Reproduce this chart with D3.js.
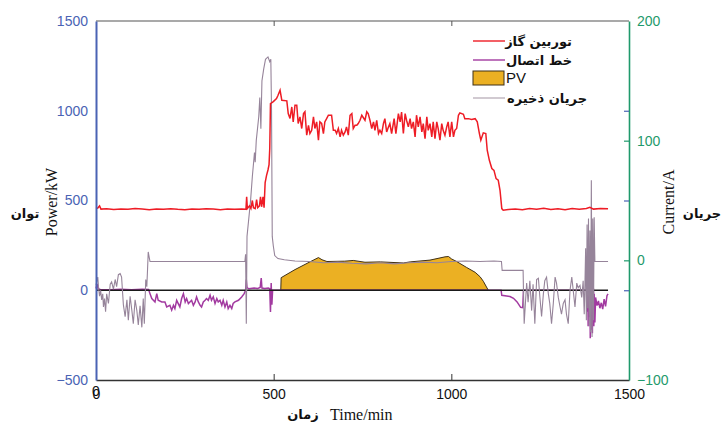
<!DOCTYPE html>
<html><head><meta charset="utf-8">
<script src="https://cdn.jsdelivr.net/npm/d3@7"></script>
<style>
html,body{margin:0;padding:0;background:#fff;}
svg{display:block;}
</style></head>
<body>
<svg id="chart" width="725" height="423"></svg>
<script>
// ---------- DATA ----------
const xTicks = [0, 500, 1000, 1500];
const powerTicks = [-500, 0, 500, 1000, 1500];
const currentTicks = [-100, 0, 100, 200];

const legendLabels = ["توربین گاز", "خط اتصال", "PV", "جریان ذخیره"];

// Gas turbine power [time(min), kW]
const gasTurbine = [
[0,455],[5,458],[10,470],[14,452],[30,454],[50,450],[70,453],[90,451],[110,455],[130,452],[150,449],[170,453],[190,451],[210,454],[230,451],[250,449],[270,453],[290,451],[310,454],[330,452],[350,449],[370,453],[390,451],[410,452],[422,451],
[424,520],[426,455],[432,470],[436,455],[440,500],[443,460],[448,455],[452,505],[455,460],[460,470],[463,520],[466,465],[470,520],[473,460],[476,600],[480,640],[484,670],[487,700],[489,790],[491,1040],[499,1051],[508,1068],[512,1085],[518,1114],[523,1058],[537,1055],[541,984],[546,957],[551,1021],[555,938],[560,1031],[565,1031],[569,929],[574,966],[579,901],[584,984],[588,994],[593,864],[598,919],[602,873],[607,891],[612,966],[616,901],[621,938],[626,836],[630,938],[635,929],[640,873],[644,938],[649,956],[654,975],[663,975],[668,891],[673,891],[677,873],[682,901],[687,854],[691,891],[696,864],[701,882],[705,910],[710,864],[715,975],[720,984],[724,901],[729,919],[734,919],[738,929],[743,947],[748,975],[757,947],[762,994],[766,984],[771,947],[776,901],[781,938],[785,891],[790,947],[795,873],[799,891],[804,873],[809,929],[813,956],[818,882],[823,910],[827,928],[832,873],[839,956],[844,873],[851,984],[856,938],[860,993],[865,873],[870,984],[874,947],[879,910],[884,956],[888,901],[893,938],[898,854],[902,975],[907,910],[912,966],[917,882],[921,928],[926,845],[931,966],[935,891],[940,928],[945,854],[949,938],[954,845],[959,938],[963,901],[968,836],[973,928],[977,891],[982,863],[987,910],[991,938],[996,854],[1001,938],[1006,854],[1010,891],[1015,901],[1020,975],[1024,988],[1034,980],[1038,956],[1048,956],[1057,951],[1067,956],[1073,938],[1079,873],[1083,836],[1090,877],[1097,873],[1101,780],[1107,724],[1114,678],[1120,668],[1126,622],[1132,613],[1137,557],[1142,455],[1146,446],[1160,450],[1180,452],[1200,449],[1220,455],[1240,451],[1260,457],[1280,450],[1300,454],[1320,449],[1340,456],[1360,451],[1380,455],[1390,462],[1400,452],[1420,456],[1441,454]
];

// Tie line power [time(min), kW]
const tieLine = [
[0,10],[3,35],[6,8],[12,4],[40,3],[70,5],[100,3],[130,5],[148,4],[152,-19],[157,-46],[166,-65],[171,-19],[175,-56],[185,-65],[194,-65],[199,-93],[208,-84],[213,-111],[218,-84],[222,-102],[227,-56],[236,-93],[241,-46],[246,-19],[251,-65],[255,-46],[260,-74],[269,-56],[274,-84],[279,-65],[283,-37],[288,-65],[293,-84],[297,-93],[302,-65],[307,-56],[311,-46],[316,-56],[321,-28],[325,-56],[330,-37],[335,-74],[340,-46],[344,-65],[349,-56],[354,-84],[358,-56],[363,-93],[368,-65],[372,-102],[377,-84],[382,-102],[386,-74],[391,-65],[401,-56],[410,-37],[417,-19],[421,0],[423,60],[425,15],[430,8],[445,12],[455,10],[462,15],[465,68],[467,12],[475,10],[485,12],[489,8],[491,-121],[493,40],[495,-80],[497,0],[1140,0],[1142,-28],[1165,-35],[1175,-45],[1185,-65],[1195,-95],[1201,-97],[1203,0],[1380,0],[1382,30],[1383,-120],[1384,20],[1385,-200],[1386,35],[1387,-150],[1388,40],[1389,-90],[1390,30],[1391,-268],[1392,25],[1393,-220],[1394,37],[1395,-160],[1396,20],[1397,-240],[1398,30],[1399,-120],[1400,10],[1401,-200],[1402,-20],[1404,-180],[1406,-40],[1410,-85],[1414,-60],[1418,-100],[1422,-70],[1426,-105],[1430,-50],[1434,-90],[1438,-30],[1441,-20]
];

// PV power [time(min), kW]
const pv = [
[520,0],[521,70],[560,115],[602,158],[626,182],[636,170],[650,160],[700,162],[724,166],[757,156],[800,158],[865,152],[884,158],[940,168],[982,186],[992,188],[1001,174],[1015,160],[1043,127],[1067,100],[1081,75],[1090,50],[1104,0]
];

// Storage current [time(min), A]
const storage = [
[0,-21],[2,-18],[5,-14],[7,-22],[10,-30],[13,-25],[16,-33],[19,-28],[21,-39],[24,-32],[27,-43],[30,-28],[35,-36],[40,-20],[44,-18],[49,-24],[54,-16],[58,-22],[63,-12],[68,-11],[72,-14],[77,-37],[82,-47],[87,-33],[91,-50],[96,-30],[101,-42],[105,-53],[110,-33],[115,-42],[119,-54],[124,-38],[129,-56],[133,-32],[136,-53],[140,-16],[143,-22],[145,-8],[147,7],[150,2],[152,-1],[419,-1],[421,5],[423,-53],[425,20],[430,35],[435,50],[440,70],[446,90],[448,82],[451,100],[458,120],[461,136],[464,110],[467,150],[472,160],[477,168],[484,170],[489,166],[492,168],[494,125],[496,20],[499,12],[503,4],[512,1.5],[530,0.5],[560,-0.5],[600,-1],[640,-2],[680,-1.5],[720,-2.5],[760,-3],[800,-2],[840,-3],[880,-2],[920,-1.5],[960,-2],[1000,-1],[1040,-0.5],[1080,-1],[1120,-0.5],[1141,-1],[1143,-8.4],[1202,-8.4],[1203,-25],[1205,-53],[1212,-19],[1216,-35],[1221,-17],[1226,-42],[1230,-20],[1235,-53],[1240,-16],[1245,-15],[1249,-30],[1254,-47],[1259,-28],[1263,-17],[1268,-14],[1273,-28],[1277,-36],[1282,-53],[1287,-36],[1292,-14],[1296,-19],[1301,-31],[1306,-39],[1310,-45],[1315,-36],[1320,-33],[1324,-45],[1329,-53],[1334,-25],[1339,-14],[1343,-25],[1348,-39],[1353,-19],[1357,-23],[1362,-21],[1367,-31],[1371,-17],[1374,-45],[1376,-20],[1378,10],[1380,-50],[1382,30],[1384,-40],[1386,35],[1388,-55],[1390,25],[1392,-60],[1394,67],[1396,-64],[1398,35],[1400,-50],[1402,36],[1404,-1],[1441,-1]
];

// ---------- CHART ----------
const svg = d3.select("#chart");
const L = 96, R = 629, T = 21, B = 380;
const x = d3.scaleLinear().domain([0, 1500]).range([L, R]);
const yP = d3.scaleLinear().domain([-500, 1500]).range([B, T]);
const yI = d3.scaleLinear().domain([-100, 200]).range([B, T]);
const fmt = d3.format("d");

const blue = "#4a63b4", green = "#1f9a6c";
const cRed = "#ee1c25", cPurple = "#a23aa0", cGrey = "#96849a", cPV = "#ebb023";

const lineP = d3.line().x(d => x(d[0])).y(d => yP(d[1]));
const lineI = d3.line().x(d => x(d[0])).y(d => yI(d[1]));
const areaP = d3.area().x(d => x(d[0])).y0(yP(0)).y1(d => yP(d[1]));

// PV area
svg.append("path").datum(pv).attr("d", areaP)
  .attr("fill", cPV).attr("stroke", "#3f3018").attr("stroke-width", 1);

// tie line
svg.append("path").datum(tieLine).attr("d", lineP)
  .attr("fill", "none").attr("stroke", cPurple).attr("stroke-width", 1.5);

// zero line
svg.append("path").datum([[0,0],[1441,0]]).attr("d", lineP)
  .attr("stroke", "#1a1a1a").attr("stroke-width", 1.6);

// storage current
svg.append("path").datum(storage).attr("d", lineI)
  .attr("fill", "none").attr("stroke", cGrey).attr("stroke-width", 1.1);

// gas turbine
svg.append("path").datum(gasTurbine).attr("d", lineP)
  .attr("fill", "none").attr("stroke", cRed).attr("stroke-width", 1.5);

// ---------- AXES ----------
svg.append("line").attr("x1", L).attr("x2", R).attr("y1", T).attr("y2", T)
  .attr("stroke", "#555").attr("stroke-width", 1.2);

const gx = svg.append("g").attr("transform", `translate(0,${B})`)
  .call(d3.axisBottom(x).tickValues(xTicks).tickFormat(fmt).tickSizeInner(-6).tickSizeOuter(0).tickPadding(9));
gx.select(".domain").attr("stroke", "#333").attr("stroke-width", 1.4);
gx.selectAll(".tick line").attr("stroke", "#333")
  .attr("opacity", d => (d === 0 || d === 1500) ? 0 : 1);
gx.selectAll(".tick text").attr("font-family", "Liberation Sans, Arial, sans-serif")
  .attr("font-size", 14).attr("fill", "#111");
// doubled zero label (as printed in the reference)
svg.append("text").attr("x", x(0)).attr("y", B + 6).attr("dy", "0.71em")
  .attr("text-anchor", "middle").attr("font-family", "Liberation Sans, Arial, sans-serif")
  .attr("font-size", 14).attr("fill", "#111").text(fmt(0));

const gt = svg.append("g").attr("transform", `translate(0,${T})`)
  .call(d3.axisTop(x).tickValues([500, 1000]).tickSizeInner(-5).tickSizeOuter(0).tickFormat(""));
gt.select(".domain").remove();
gt.selectAll(".tick line").attr("stroke", "#555");

const gl = svg.append("g").attr("transform", `translate(${L},0)`)
  .call(d3.axisLeft(yP).tickValues(powerTicks).tickFormat(fmt).tickSize(0).tickPadding(8));
gl.select(".domain").attr("stroke", blue).attr("stroke-width", 2);
gl.selectAll(".tick text").attr("font-family", "Liberation Sans, Arial, sans-serif")
  .attr("font-size", 14).attr("fill", blue);

const gr = svg.append("g").attr("transform", `translate(${R},0)`)
  .call(d3.axisRight(yI).tickValues(currentTicks).tickFormat(fmt).tickSizeInner(-5).tickSizeOuter(0).tickPadding(8));
gr.select(".domain").attr("stroke", green).attr("stroke-width", 1.6);
gr.selectAll(".tick line").attr("stroke", green).attr("stroke-width", 1.2)
  .attr("opacity", d => (d === -100 || d === 200) ? 0 : 1);
gr.selectAll(".tick text").attr("font-family", "Liberation Sans, Arial, sans-serif")
  .attr("font-size", 14).attr("fill", green);

const grb = svg.append("g").attr("transform", `translate(${R},0)`)
  .call(d3.axisRight(yP).tickValues([0, 500, 1000]).tickSizeInner(-5).tickSizeOuter(0).tickFormat(""));
grb.select(".domain").remove();
grb.selectAll(".tick line").attr("stroke", blue).attr("stroke-width", 1.2);

// ---------- TITLES ----------
svg.append("text").attr("transform", "translate(57,202) rotate(-90)")
  .attr("text-anchor", "middle").attr("font-family", "Liberation Serif, Times New Roman, serif")
  .attr("font-size", 16).attr("fill", "#111").text("Power/kW");
svg.append("text").attr("x", 25).attr("y", 218)
  .attr("text-anchor", "middle").attr("font-family", "DejaVu Sans, sans-serif")
  .attr("font-weight", "bold").attr("font-size", 13).attr("fill", "#111").text("توان");

svg.append("text").attr("transform", "translate(674,202) rotate(-90)")
  .attr("text-anchor", "middle").attr("font-family", "Liberation Serif, Times New Roman, serif")
  .attr("font-size", 16).attr("fill", "#111").text("Current/A");
svg.append("text").attr("x", 702).attr("y", 218)
  .attr("text-anchor", "middle").attr("font-family", "DejaVu Sans, sans-serif")
  .attr("font-weight", "bold").attr("font-size", 13).attr("fill", "#111").text("جریان");

svg.append("text").attr("x", 303).attr("y", 419)
  .attr("text-anchor", "middle").attr("font-family", "DejaVu Sans, sans-serif")
  .attr("font-weight", "bold").attr("font-size", 13).attr("fill", "#111").text("زمان");
svg.append("text").attr("x", 330).attr("y", 420)
  .attr("text-anchor", "start").attr("font-family", "Liberation Serif, Times New Roman, serif")
  .attr("font-size", 16).attr("fill", "#111").text("Time/min");

// ---------- LEGEND ----------
const leg = svg.append("g");
const legY = [41, 60, 78, 98];
const legColors = [cRed, cPurple, cPV, "#b3a6b3"];
legendLabels.forEach((lab, i) => {
  if (i === 2) {
    leg.append("rect").attr("x", 473).attr("y", legY[i] - 7).attr("width", 31).attr("height", 14)
      .attr("fill", cPV).attr("stroke", "#3f3018").attr("stroke-width", 1);
    leg.append("text").attr("x", 506).attr("y", legY[i] + 5)
      .attr("font-family", "Liberation Sans, Arial, sans-serif").attr("font-size", 15)
      .attr("fill", "#111").text(lab);
  } else {
    leg.append("line").attr("x1", 473).attr("x2", 505).attr("y1", legY[i]).attr("y2", legY[i])
      .attr("stroke", legColors[i]).attr("stroke-width", i === 3 ? 1.2 : 1.4);
    leg.append("text").attr("x", i === 3 ? 587 : 572).attr("y", legY[i] + 5)
      .attr("text-anchor", "end").attr("font-family", "DejaVu Sans, sans-serif")
      .attr("font-weight", "bold").attr("font-size", 13).attr("fill", "#111").text(lab);
  }
});
</script>
</body></html>
